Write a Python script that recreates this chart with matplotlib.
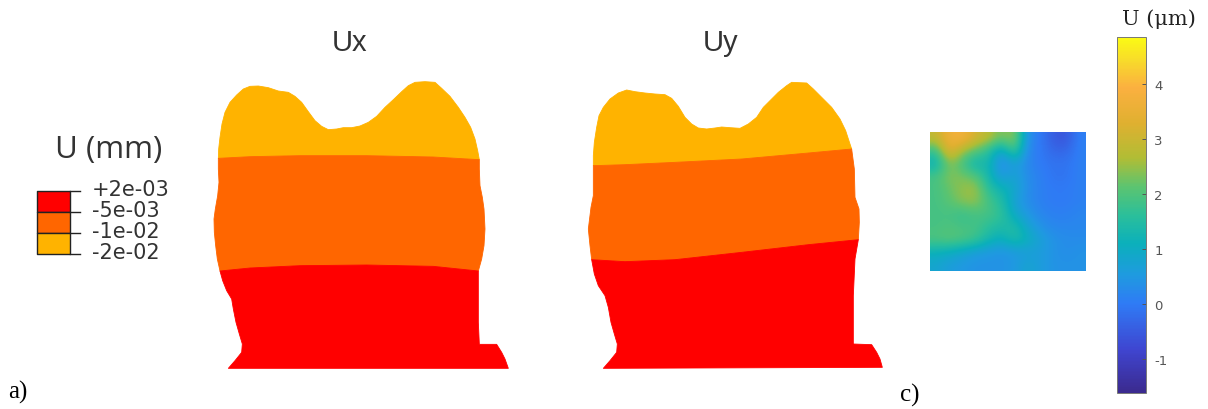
import numpy as np
import matplotlib
matplotlib.use('Agg')
import matplotlib.pyplot as plt
from matplotlib.colors import LinearSegmentedColormap, Normalize
from matplotlib.cm import ScalarMappable

W, H = 1208, 410

# outlines, crop pixels x3 (x, y)
ux_top = [(55,268),(56,240),(60,205),(66,165),(75,130),(90,100),(110,78),(130,60),(150,52),(175,51),(205,56),
          (235,66),(265,70),(285,82),(305,100),(325,128),(345,155),(365,172),(385,182),(410,180),(430,176),
          (455,176),(480,171),(505,160),(530,142),(555,115),(580,92),(605,68),(625,50),(645,40),(675,38),
          (705,40),(725,58),(750,82),(775,115),(795,145),(812,175),(825,210),(833,245),(838,272)]
ux_line1 = [(838,272),(700,264),(500,260),(300,260),(150,263)]
ux_left = [(55,268),(55,300),(57,340),(53,380),(46,420),(42,450),(43,490),(47,530),(52,570),(60,606)]
ux_line2 = [(60,606),(150,597),(300,590),(500,588),(700,592),(835,606)]
ux_right = [(835,606),(845,570),(852,530),(855,480),(852,420),(847,385),(840,350),(838,300),(838,272)]
ux_low = [(60,606),(68,635),(80,665),(95,690),(100,720),(108,760),(118,795),(127,825),(125,850),(105,875),(85,898),
          (925,898),(915,870),(905,850),(890,826),(838,826),(835,760),(835,700),(835,606)]

uy_top = [(55,290),(55,260),(58,220),(65,175),(72,140),(85,115),(105,90),(130,72),(155,63),(180,68),(210,72),
          (240,75),(270,77),(290,88),(310,112),(330,145),(350,165),(370,177),(395,180),(420,177),(440,174),
          (465,176),(495,178),(520,165),(545,145),(565,115),(585,95),(610,70),(635,50),(650,40),(695,42),
          (715,60),(740,85),(770,115),(795,150),(812,185),(825,225),(830,240)]
uy_line1 = [(830,240),(700,252),(500,270),(300,280),(150,287)]
uy_left = [(55,290),(55,340),(55,380),(48,415),(40,480),(45,530),(50,572)]
uy_line2 = [(50,572),(150,578),(300,572),(500,550),(700,527),(850,512)]
uy_right = [(850,512),(853,460),(852,420),(840,385),(838,300),(830,240)]
uy_low = [(50,572),(58,615),(70,650),(90,680),(100,715),(108,760),(118,795),(127,825),(125,850),(105,875),(85,898),
          (922,895),(915,870),(905,850),(890,827),(835,825),(835,760),(835,680),(840,570),(850,512)]

band_colors = ['#ffb300', '#ff6600', '#ff0000']
legend_labels = ['+2e-03', '-5e-03', '-1e-02', '-2e-02']
legend_colors = ['#ff0000', '#ff6600', '#ffb300']

# heat map values read by eye (um)
u_map = np.array([
    [2.9, 3.7, 3.8, 3.1, 2.8, 2.2, 2.6, 0.3, 0.0, -0.5, -0.6, 0.1],
    [1.7, 3.5, 2.5, 2.1, 1.6, 0.6, 2.0, 0.2, 0.0, -0.3, -0.3, 0.1],
    [1.1, 2.4, 1.9, 1.1, 1.4, 0.1, 0.7, 0.2, 0.0, -0.1, -0.1, 0.1],
    [1.9, 2.4, 2.3, 2.1, 1.3, 0.5, 0.8, 0.3, 0.1, -0.1, -0.1, 0.1],
    [1.9, 2.2, 2.5, 2.6, 1.6, 1.2, 0.9, 0.3, 0.1, 0.0, 0.0, 0.1],
    [1.9, 2.1, 2.4, 2.5, 1.9, 1.5, 0.7, 0.3, 0.1, 0.0, 0.0, 0.1],
    [1.9, 1.9, 1.7, 1.9, 1.9, 1.7, 0.9, 0.5, 0.2, 0.1, 0.1, 0.2],
    [1.9, 2.0, 1.9, 1.9, 1.6, 1.4, 1.5, 0.8, 0.4, 0.2, 0.2, 0.2],
    [2.0, 2.1, 2.0, 1.8, 1.3, 1.0, 1.5, 1.1, 0.7, 0.4, 0.3, 0.3],
    [1.1, 1.0, 0.8, 0.6, 0.5, 0.4, 0.5, 0.6, 0.6, 0.4, 0.3, 0.4],
    [0.8, 0.6, 0.5, 0.4, 0.4, 0.4, 0.5, 0.8, 0.6, 0.4, 0.4, 0.4],
])
u_min, u_max = -1.62, 4.86
cbar_ticks = [-1, 0, 1, 2, 3, 4]

parula = LinearSegmentedColormap.from_list('parula_like', [
    (0.00, '#3b2a8e'), (0.12, '#3f45d0'), (0.25, '#2f7bf5'), (0.33, '#1f9ae0'),
    (0.42, '#0bb0bb'), (0.50, '#2bbf9a'), (0.58, '#5cc470'), (0.66, '#b0bd35'),
    (0.76, '#e0b030'), (0.86, '#fbb040'), (0.93, '#f8d82c'), (1.00, '#fbfb14')])


def axes_px(x0, y0, x1, y1):
    return fig.add_axes([x0 / W, 1 - y1 / H, (x1 - x0) / W, (y1 - y0) / H])


def crop_shape(pts, ox, oy):
    p = np.array(pts, dtype=float)
    return ox + p[:, 0] / 3, oy + p[:, 1] / 3


fig = plt.figure(figsize=(W / 100, H / 100), dpi=100)
ax = fig.add_axes([0, 0, 1, 1])
ax.set_xlim(0, W)
ax.set_ylim(H, 0)
ax.axis('off')

shapes_x = (ux_top + ux_line1, ux_left + ux_line2 + ux_right + ux_line1, ux_low + ux_line2[::-1])
shapes_y = (uy_top + uy_line1, uy_left + uy_line2 + uy_right + uy_line1, uy_low + uy_line2[::-1])
for shapes, ox in [(shapes_x, 200), (shapes_y, 575)]:
    for pts, col in zip(shapes, band_colors):
        x, y = crop_shape(pts, ox, 70)
        ax.fill(x, y, color=col, lw=0.6, joinstyle='round')

ax.text(350, 43, 'Ux', fontsize=21, family='Liberation Sans', ha='center', va='center', color='#333333')
ax.text(721, 43, 'Uy', fontsize=21, family='Liberation Sans', ha='center', va='center', color='#333333')
ax.text(109, 150, 'U (mm)', fontsize=22.5, family='Open Sans', ha='center', va='center', color='#333333')

# legend of the left panel
edges = [192, 213, 234, 255]
for i, col in enumerate(legend_colors):
    ax.fill_between([37, 69.5], edges[i], edges[i + 1], facecolor=col, edgecolor='#222222', lw=1)
for yy, lab, ty in zip(edges, legend_labels, [190, 211, 232, 253]):
    ax.plot([69.5, 80], [yy, yy], color='#222222', lw=1)
    ax.text(92, ty, lab, fontsize=15, family='DejaVu Sans', ha='left', va='center', color='#333333')

ax.text(8, 392, 'a)', fontsize=18, family='Liberation Serif', ha='left', va='center', color='black')
ax.text(900, 395, 'c)', fontsize=18, family='Liberation Serif', ha='left', va='center', color='black')
ax.text(1159, 19, 'U (\u03bcm)', fontsize=15, family='DejaVu Serif', ha='center', va='center', color='#222222')

# heat map
norm = Normalize(u_min, u_max)
hm = axes_px(930, 133, 1086, 272)
hm.imshow(u_map, cmap=parula, norm=norm, aspect='auto', interpolation='bicubic')
hm.axis('off')

# colour bar
cax = axes_px(1117, 38, 1146, 394)
cb = fig.colorbar(ScalarMappable(norm=norm, cmap=parula), cax=cax)
cb.set_ticks(cbar_ticks)
cb.ax.set_yticklabels([str(v) for v in cbar_ticks])
cb.ax.tick_params(direction='in', length=3, width=0.7, color='#555555', labelsize=9.5, labelcolor='#555555', pad=6)
cb.outline.set_edgecolor('#777777')
cb.outline.set_linewidth(0.7)

fig.savefig('out.png', dpi=100)
